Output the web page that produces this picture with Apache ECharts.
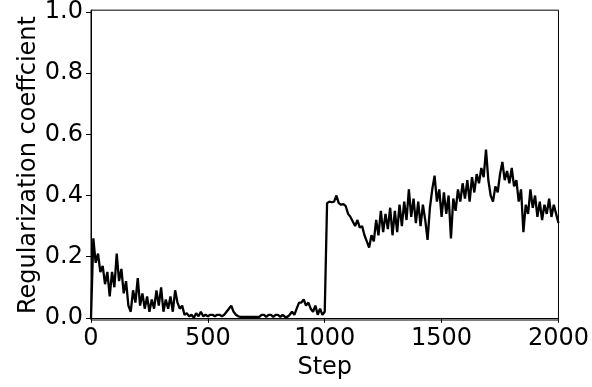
<!DOCTYPE html>
<html>
<head>
<meta charset="utf-8">
<script src="https://cdn.jsdelivr.net/npm/echarts@6/dist/echarts.min.js"></script>
<style>
  html, body { margin: 0; padding: 0; background: #fff; }
  #chart { width: 592px; height: 387px; }
</style>
</head>
<body>
<div id="chart"></div>
<script>
// one value every 10 steps
const stepSize = 10;
const coefValues = [
  0, 0.26, 0.18, 0.21, 0.15, 0.17, 0.11, 0.15, 0.07, 0.15,
  0.10, 0.21, 0.12, 0.16, 0.08, 0.12, 0.04, 0.02, 0.09, 0.05,
  0.13, 0.04, 0.08, 0.03, 0.07, 0.02, 0.06, 0.03, 0.09, 0.04,
  0.10, 0.02, 0.06, 0.03, 0.07, 0.02, 0.09, 0.05, 0.03, 0.04,
  0.01, 0.015, 0.005, 0.01, 0.00, 0.015, 0.005, 0.02, 0.005, 0.01,
  0.005, 0.01, 0.01, 0.005, 0.01, 0.01, 0.005, 0.01, 0.02, 0.03,
  0.04, 0.02, 0.01, 0.005, 0.003, 0.003, 0.003, 0.003, 0.003, 0.003,
  0.003, 0.003, 0.003, 0.01, 0.01, 0.003, 0.01, 0.01, 0.003, 0.01,
  0.01, 0.003, 0.01, 0.003, 0.003, 0.01, 0.02, 0.01, 0.03, 0.05,
  0.05, 0.06, 0.04, 0.05, 0.03, 0.02, 0.04, 0.01, 0.03, 0.01,
  0.02, 0.375, 0.38, 0.378, 0.38, 0.40, 0.375, 0.37, 0.372, 0.365,
  0.34, 0.33, 0.315, 0.30, 0.32, 0.295, 0.30, 0.27, 0.25, 0.23,
  0.27, 0.25, 0.32, 0.27, 0.35, 0.28, 0.34, 0.29, 0.36, 0.27,
  0.35, 0.28, 0.37, 0.30, 0.38, 0.32, 0.42, 0.33, 0.39, 0.31,
  0.38, 0.30, 0.37, 0.32, 0.255, 0.36, 0.42, 0.465, 0.38, 0.42,
  0.33, 0.41, 0.34, 0.40, 0.26, 0.39, 0.35, 0.42, 0.38, 0.44,
  0.39, 0.45, 0.38, 0.46, 0.41, 0.47, 0.44, 0.49, 0.46, 0.55,
  0.45, 0.40, 0.38, 0.43, 0.41, 0.47, 0.51, 0.45, 0.48, 0.44,
  0.49, 0.43, 0.45, 0.38, 0.42, 0.28, 0.37, 0.34, 0.42, 0.36,
  0.40, 0.33, 0.38, 0.32, 0.37, 0.34, 0.39, 0.33, 0.37, 0.34,
  0.31
];
const xTicks = [0, 500, 1000, 1500, 2000];
const yTicks = [0, 0.2, 0.4, 0.6, 0.8, 1.0];

const seriesData = coefValues.map((v, i) => [i * stepSize, v]);

const chart = echarts.init(document.getElementById('chart'));
const font = 'DejaVu Sans';

chart.setOption({
  animation: false,
  backgroundColor: '#fff',
  grid: {
    left: 91,
    right: 31,
    top: 10,
    bottom: 67,
    show: true,
    borderColor: '#000',
    borderWidth: 1,
    backgroundColor: 'transparent'
  },
  xAxis: {
    type: 'value',
    min: 0,
    max: 2000,
    name: 'Step',
    nameLocation: 'middle',
    nameGap: 36,
    nameMoveOverlap: false,
    nameTextStyle: { color: '#000', fontSize: 24, fontFamily: font },
    axisLine: { show: true, lineStyle: { color: '#000', width: 1 } },
    axisTick: {
      show: true, length: 5, lineStyle: { color: '#000' },
      customValues: xTicks
    },
    axisLabel: {
      color: '#000', fontSize: 24, fontFamily: font, margin: 7,
      customValues: xTicks,
      formatter: v => String(v)
    },
    splitLine: { show: false }
  },
  yAxis: {
    type: 'value',
    min: -0.007,
    max: 1.006,
    name: 'Regularization coeffcient',
    nameLocation: 'middle',
    nameGap: 50,
    nameMoveOverlap: false,
    nameTextStyle: { color: '#000', fontSize: 24, fontFamily: font },
    axisLine: { show: true, lineStyle: { color: '#000', width: 1 } },
    axisTick: {
      show: true, length: 5, lineStyle: { color: '#000' },
      customValues: yTicks
    },
    axisLabel: {
      color: '#000', fontSize: 24, fontFamily: font, margin: 8,
      customValues: yTicks,
      formatter: v => v.toFixed(1)
    },
    splitLine: { show: false }
  },
  series: [{
    type: 'line',
    data: seriesData,
    showSymbol: false,
    lineStyle: { color: '#000', width: 2.3 },
    clip: true
  }]
});
</script>
</body>
</html>
